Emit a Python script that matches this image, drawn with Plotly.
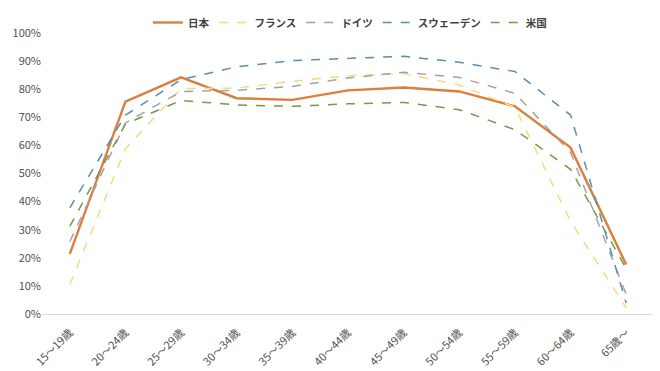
import plotly.graph_objects as go

categories = ["15～19歳", "20～24歳", "25～29歳", "30～34歳", "35～39歳", "40～44歳",
              "45～49歳", "50～54歳", "55～59歳", "60～64歳", "65歳～"]
japan = [21.4, 75.6, 84.2, 76.8, 76.2, 79.6, 80.6, 79.2, 73.9, 59.2, 17.6]
france = [10.5, 58.8, 80.2, 80.4, 82.8, 84.8, 85.6, 81.5, 73.6, 33.0, 2.2]
germany = [25.8, 68.0, 79.2, 79.6, 81.0, 84.0, 86.0, 84.2, 78.5, 57.5, 7.0]
sweden = [37.8, 70.8, 83.4, 88.0, 90.2, 91.0, 91.7, 89.6, 86.3, 70.8, 3.9]
usa = [31.2, 67.6, 76.0, 74.4, 73.9, 74.8, 75.3, 72.7, 65.6, 51.5, 16.2]

series = [
    ("日本", japan, "#DB7F3E", "solid", 2.4),
    ("フランス", france, "#F6DA7E", "dash", 1.5),
    ("ドイツ", germany, "#A3A3A3", "dash", 1.5),
    ("スウェーデン", sweden, "#5B8CAE", "dash", 1.5),
    ("米国", usa, "#6E9D4C", "dash", 1.5),
]

fig = go.Figure()
for name, vals, color, dash, w in series:
    fig.add_trace(go.Scatter(
        x=categories, y=[v / 100 for v in vals], name=name, mode="lines",
        line=dict(color=color, dash=dash, width=w),
    ))

fig.update_layout(
    width=660, height=371,
    margin=dict(l=34, r=14, t=25, b=65, autoexpand=False),
    paper_bgcolor="white", plot_bgcolor="white",
    font=dict(family="Noto Sans CJK JP", color="#595959", size=11),
    showlegend=True,
    legend=dict(orientation="h", xref="container", x=0.518, xanchor="center",
                yref="container", y=1.0, yanchor="top",
                bgcolor="rgba(0,0,0,0)",
                font=dict(size=10.5, color="#404040", family="Noto Sans CJK JP", weight="bold"),
                itemwidth=30, tracegroupgap=0),
    xaxis=dict(type="category", tickangle=-45, showgrid=False, showline=True,
               linecolor="#D9D9D9", linewidth=1, ticks="", tickfont=dict(size=11, color="#505050"),
               ticklabelstandoff=7,
               range=[-0.5, len(categories) - 0.5], zeroline=False, automargin=False),
    yaxis=dict(range=[0, 1], tickformat=".0%", dtick=0.1, showgrid=False,
               zeroline=False, showline=False, ticks="", tickfont=dict(size=11, color="#505050"),
               automargin=False),
)

fig.write_html("out.html")
